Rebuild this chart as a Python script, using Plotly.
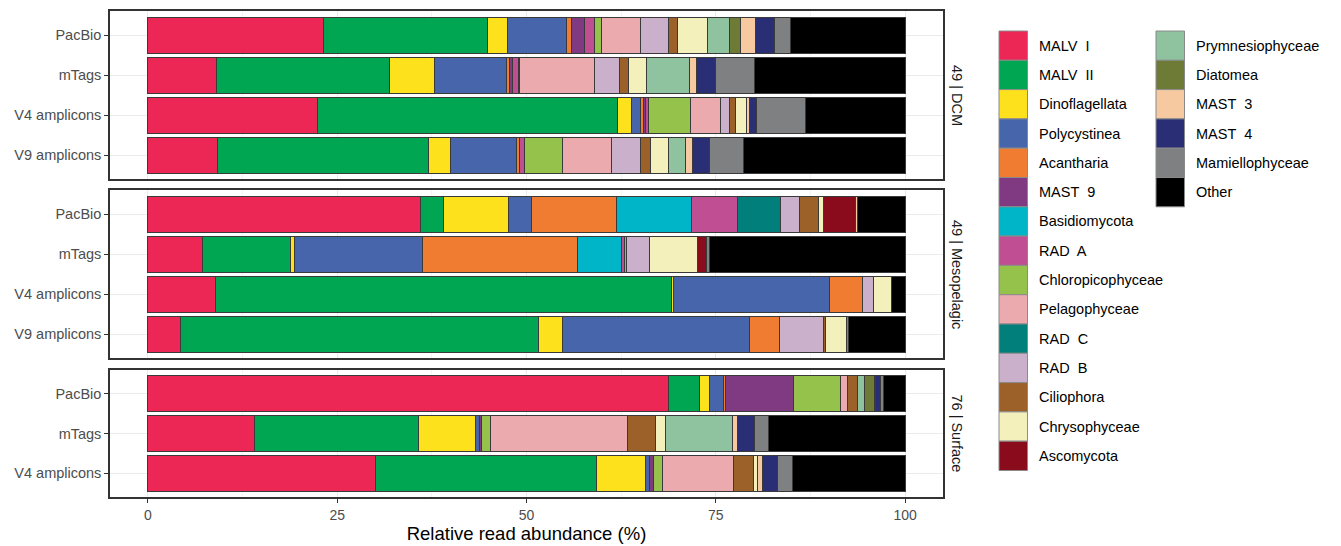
import plotly.graph_objects as go

# Taxonomic groups, in stacking / legend order
taxa = ["MALV\u00a0 I", "MALV\u00a0 II", "Dinoflagellata", "Polycystinea", "Acantharia",
        "MAST\u00a0 9", "Basidiomycota", "RAD\u00a0 A", "Chloropicophyceae", "Pelagophyceae",
        "RAD\u00a0 C", "RAD\u00a0 B", "Ciliophora", "Chrysophyceae", "Ascomycota",
        "Prymnesiophyceae", "Diatomea", "MAST\u00a0 3", "MAST\u00a0 4", "Mamiellophyceae", "Other"]

colors = ["#EC2755", "#00A651", "#FDE11D", "#4665AA", "#F07C32",
          "#7F3A82", "#00B5C7", "#C04E93", "#95C24A", "#EBAAAD",
          "#007F7B", "#CBB0CC", "#9C6128", "#F3F0BC", "#8A0C1C",
          "#8FC3A0", "#6E7B36", "#F6C9A1", "#2A2F75", "#7F8081", "#000000"]

# Relative read abundance (%) per taxon, one list per dataset
dcm_pacbio = [23.2, 21.6, 2.7, 7.8, 0.6, 1.7, 0, 1.4, 0.9, 5.2, 0, 3.6, 1.2, 4.0, 0, 2.9, 1.5, 2.0, 2.4, 2.1, 15.2]
dcm_mtags = [9.0, 22.9, 5.9, 9.5, 0.5, 0.4, 0, 0.7, 0.2, 9.9, 0, 3.3, 1.2, 2.4, 0, 5.6, 0, 1.0, 2.5, 5.1, 19.9]
dcm_v4 = [22.4, 39.6, 1.9, 1.2, 0.3, 0.3, 0, 0.4, 5.5, 4.0, 0, 1.2, 0.8, 1.5, 0, 0, 0, 0.4, 0.9, 6.5, 13.1]
dcm_v9 = [9.2, 27.9, 2.8, 8.8, 0.4, 0, 0, 0.7, 5.0, 6.4, 0, 3.9, 1.3, 2.3, 0, 2.3, 0, 0.9, 2.2, 4.6, 21.3]

meso_pacbio = [36.0, 3.1, 8.5, 3.0, 11.3, 0, 9.9, 6.0, 0, 0, 5.8, 2.4, 2.5, 0.7, 4.2, 0, 0, 0.3, 0, 0, 6.3]
meso_mtags = [7.2, 11.7, 0.5, 16.9, 20.4, 0, 5.9, 0.4, 0.2, 0, 0, 3.0, 0, 6.4, 1.2, 0, 0, 0, 0, 0.3, 25.9]
meso_v4 = [8.9, 60.3, 0.2, 20.6, 4.4, 0, 0, 0, 0, 0, 0, 1.4, 0, 2.4, 0, 0, 0, 0, 0, 0, 1.8]
meso_v9 = [4.3, 47.3, 3.1, 24.8, 3.9, 0, 0, 0, 0, 0, 0, 5.8, 0.3, 2.7, 0, 0, 0, 0, 0, 0.3, 7.5]

surf_pacbio = [68.7, 4.1, 1.3, 1.9, 0.3, 8.9, 0, 0, 6.2, 1.0, 0, 0, 1.3, 0, 0, 0.9, 1.3, 0.2, 0.6, 0.4, 2.9]
surf_mtags = [14.1, 21.7, 7.5, 0.5, 0, 0.3, 0, 0, 1.2, 18.0, 0, 0, 3.8, 1.2, 0, 8.9, 0, 0.6, 2.3, 1.9, 18.0]
surf_v4 = [30.0, 29.3, 6.4, 0.6, 0, 0.5, 0, 0, 1.1, 9.4, 0, 0, 2.7, 0.5, 0, 0, 0, 0.6, 2.0, 2.0, 14.9]

datasets4 = ["PacBio", "mTags", "V4 amplicons", "V9 amplicons"]
datasets3 = ["PacBio", "mTags", "V4 amplicons"]

panels = [
    ("49 | DCM", datasets4, [dcm_pacbio, dcm_mtags, dcm_v4, dcm_v9]),
    ("49 | Mesopelagic", datasets4, [meso_pacbio, meso_mtags, meso_v4, meso_v9]),
    ("76 | Surface", datasets3, [surf_pacbio, surf_mtags, surf_v4]),
]

W, H = 1341, 546
ML, MR, MT, MB = 110, 398, 11, 49
PW, PH = W - ML - MR, H - MT - MB


def px_x(px):
    return (px - ML) / PW


def px_y(py):
    return (H - MB - py) / PH


# panel extents in pixels (top, bottom)
panel_px = [(11, 179), (190, 358), (370, 497)]
yaxes = ["y", "y2", "y3"]
xaxes = ["x2", "x3", "x"]

FONT = "Liberation Sans, Arial, Helvetica, sans-serif"
fig = go.Figure()

for (strip, cats, rows), ya, xa in zip(panels, yaxes, xaxes):
    for i, (name, col) in enumerate(zip(taxa, colors)):
        vals = [r[i] if r[i] > 0 else None for r in rows]
        fig.add_trace(go.Bar(
            x=vals, y=cats, orientation="h", name=name,
            marker=dict(color=col, line=dict(color="#3a3a3a", width=1)),
            xaxis=xa, yaxis=ya, showlegend=False,
            hovertemplate="%{y}: %{x}%<extra>" + name + "</extra>"))

axis_line = dict(showline=True, mirror=True, linecolor="#333333", linewidth=1.5,
                 automargin=False)
xgrid = dict(range=[-5, 105], tickvals=[0, 25, 50, 75, 100], showgrid=True,
             gridcolor="#EBEBEB", gridwidth=1.2, zeroline=False,
             minor=dict(tickvals=[12.5, 37.5, 62.5, 87.5], showgrid=True,
                        gridcolor="#F4F4F4", gridwidth=0.7))

layout = dict(
    width=W, height=H, margin=dict(l=ML, r=MR, t=MT, b=MB, autoexpand=False),
    barmode="stack", bargap=0.1,
    plot_bgcolor="white", paper_bgcolor="white",
    font=dict(family=FONT, size=15, color="#4D4D4D"),
    xaxis=dict(anchor="y3", domain=[0, 1], ticks="outside", ticklen=4,
               tickcolor="#333333", tickwidth=1.2,
               tickfont=dict(size=14, color="#4D4D4D"),
               title=dict(text="Relative read abundance (%)",
                          font=dict(size=18.5, color="black"), standoff=2),
               **xgrid, **axis_line),
    xaxis2=dict(anchor="y", matches="x", showticklabels=False, **xgrid, **axis_line),
    xaxis3=dict(anchor="y2", matches="x", showticklabels=False, **xgrid, **axis_line),
)

for k, ((strip, cats, rows), ya) in enumerate(zip(panels, yaxes)):
    top, bot = panel_px[k]
    key = "yaxis" if k == 0 else "yaxis%d" % (k + 1)
    n = len(cats)
    layout[key] = dict(
        domain=[px_y(bot), px_y(top)], anchor=xaxes[k],
        categoryorder="array", categoryarray=list(reversed(cats)),
        range=[-0.6, n - 0.4], showgrid=True, gridcolor="#EBEBEB", gridwidth=1.2,
        ticks="outside", ticklen=4, tickcolor="#333333", tickwidth=1.2,
        tickfont=dict(size=14.5, color="#4D4D4D"), **axis_line)

fig.update_layout(**layout)

# facet strip labels on the right
for (strip, cats, rows), (top, bot) in zip(panels, panel_px):
    fig.add_annotation(x=px_x(957), y=px_y((top + bot) / 2), xref="paper", yref="paper",
                       text=strip, textangle=90, showarrow=False,
                       font=dict(size=14.5, color="#1A1A1A"),
                       xanchor="center", yanchor="middle")

# two-column legend
key_w, key_h = 28.5, 29.3
col_x = [999, 1156]
legend_top = 31
per_col = 15
for i, (name, col) in enumerate(zip(taxa, colors)):
    c, r = divmod(i, per_col)
    x0 = col_x[c]
    y0 = legend_top + r * key_h
    fig.add_shape(type="rect", xref="paper", yref="paper",
                  x0=px_x(x0), x1=px_x(x0 + key_w),
                  y0=px_y(y0 + key_h), y1=px_y(y0),
                  fillcolor=col, line=dict(color="#8a8a8a", width=1))
    fig.add_annotation(x=px_x(x0 + key_w + 9.5), y=px_y(y0 + key_h / 2),
                       xref="paper", yref="paper", text=name, showarrow=False,
                       xanchor="left", yanchor="middle",
                       font=dict(size=14.5, color="black"))

fig.write_html("out.html")
